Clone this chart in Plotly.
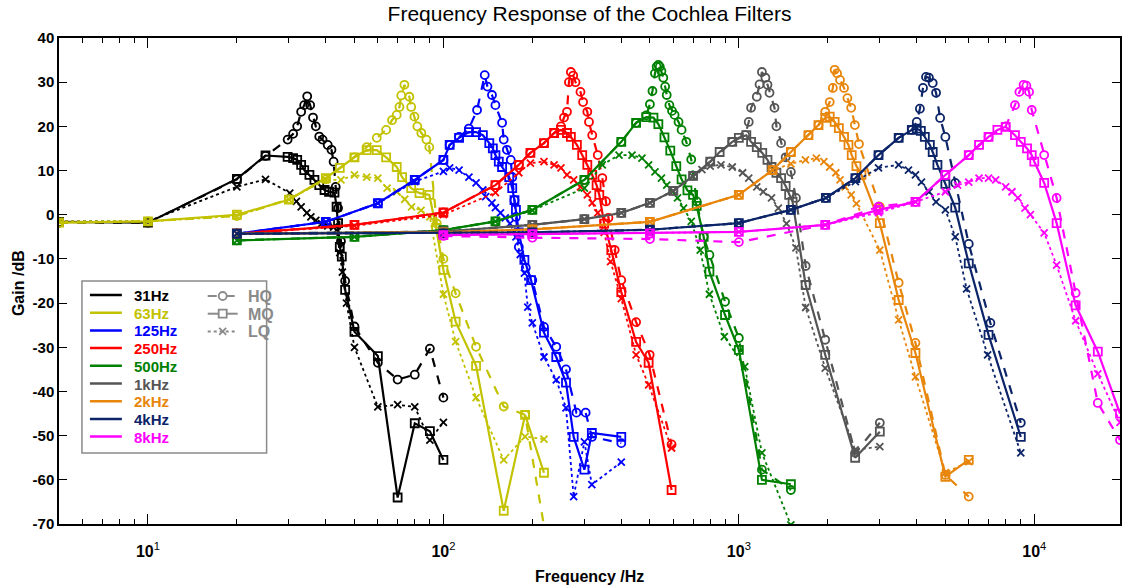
import plotly.graph_objects as go

# ---------------- data (Hz, dB) ----------------
F31_HQ = [5,10,20,25,29.7,31,32,33,33.8,34.6,35.4,36.2,37,38,39,40.6,41.8,42.5,43.2,44,45,46.5,50,60,70,80,90,100]
G31_HQ = [-1.8,-1.8,8,13.3,17,18.3,20,23.3,24.8,26.8,24.8,22,20,17.7,17,15.8,14.7,12,6.3,1.5,-6,-15,-25.3,-33.5,-37.3,-36.2,-30.3,-41.4]
F31_MQ = [5,10,20,25,29.7,31,32,33,33.8,35.2,36.6,38,39.6,41,42.8,43.5,44,44.6,45.3,46.5,50,60,70,80,90,100]
G31_MQ = [-1.6,-1.8,8.1,13.4,13.1,12.8,12.4,11.3,10.1,9.0,7.9,6.7,5.6,5.2,5.0,1.8,-1.9,-7.3,-9.5,-17,-26.5,-32,-64,-47.2,-49,-55.5]
F31_LQ = [5,10,20,25,30.2,31.8,33,34.5,35.6,37,38.7,40.6,42.5,43.5,44.6,45.5,47,50,60,70,80,90,100]
G31_LQ = [-1.5,-1.5,6.3,8,4.9,3.0,1.8,0.4,-0.5,-1.3,-2,-2.5,-2.8,-3.5,-8.6,-13,-20,-30,-43.5,-43,-43.5,-51,-47]

F63_HQ = [5,10,20,30,40,50,55,59.5,64,67,69.5,71,72,73.8,76.7,77.8,79.8,81.6,84.2,87.6,89.6,95,100,110,129,160,189,225]
G63_HQ = [-1.8,-1.5,-0.3,3.5,8,13,15.3,17.4,19.2,21.4,22.6,24.4,27,29.4,26.7,24.4,22.2,20,18.5,17,15.3,-2,-10,-17.8,-29.9,-43.4,-45.3,-75]
F63_MQ = [5,10,20,30,40,44.6,50,55,59.5,64,69.5,72.5,77.8,83,89.6,94.5,100,110,129,160,189,219]
G63_MQ = [-1.8,-1.5,0,3.4,8.3,10.6,13,14.6,14.6,13,10.8,8.5,6,4.9,4.5,-3,-12.5,-24.2,-34.2,-67,-45.3,-58.4]
F63_LQ = [5,10,20,30,40,45,50,55,60,64.5,69.5,74,78,84,90,100,110,129,160,189,219]
G63_LQ = [-1.5,-1.5,-0.3,3.5,7.9,7.9,9,8.5,8.3,6,5.2,3.5,1.8,1,-0.5,-18,-28.7,-41.4,-55.5,-50.2,-50.8]

F125_HQ = [20,40,60,80,100,105,113,122,130,138,141,146,150,158,160,164,169,171,174,176,180,190,200,219,241,260,282,303,318,400]
G125_HQ = [-4.3,-1.6,2.6,7.9,12.4,15.8,17.6,19.5,23.7,31.6,29,27.1,24.8,20.8,17,14.7,12.4,8.5,3.3,-0.5,-7.3,-12,-14.8,-25.4,-29.9,-35,-44.8,-44.8,-50.3,-51.7]
F125_MQ = [20,40,60,80,100,105,113,122,129,136,143,147,150,154,158,167,171,174,176,180,188,198,219,241,260,276,300,318,400]
G125_MQ = [-4.3,-1.6,2.6,7.9,12.4,15.8,17.4,18.7,18.7,18,16.2,15,13.5,12,10.8,8.5,6,3.3,1.1,-4,-10.2,-14.8,-26.7,-32.2,-38,-50.3,-57.7,-49.4,-50.3]
F125_LQ = [20,40,60,80,100,105,113,122,129,136,139,146,150,156,162,168,176,182,188,193,200,219,241,260,276,300,318,400]
G125_LQ = [-4.3,-1.6,2.6,7.5,9.8,10.6,10.1,8.5,7.2,5.6,4.1,2.7,1.6,0.4,-0.7,-2,-5,-9,-13.2,-20.9,-24.5,-32.2,-37.4,-43.7,-63.8,-51.4,-61.1,-56]

F250_HQ = [20,50,100,150,180,197,219,237,250,256,262,266,270,275,280,291,297,307,311,319,333,345,355,362,380,400,449,499,592]
G250_HQ = [-4.3,-2.3,0.5,6.7,11.3,14,16.2,18.5,20,22,23.3,30,32.3,31.5,30,27.8,25.5,23.3,21,18,13.5,8.3,3,-0.7,-8,-14.8,-24.3,-31.7,-52]
F250_MQ = [20,50,100,150,180,197,219,237,250,262,270,283,295,307,319,330,337,350,370,400,449,495,592]
G250_MQ = [-4.3,-2.3,0.5,6.7,11.3,14,16.2,18.5,19.2,18.5,17.6,15.8,13.5,11.3,9,6.7,4.5,-2,-8,-17.5,-28.8,-33.5,-62.3]
F250_LQ = [20,50,100,150,180,197,219,237,250,262,276,291,307,319,333,350,368,400,449,495,592]
G250_LQ = [-4.3,-2.5,0,5,9.5,11.7,12,11.3,10.6,9,7.9,6.3,4.5,2.7,0.4,-4,-10.6,-19,-31.7,-38.5,-52.8]

F500_HQ = [20,50,100,150,200,300,400,449,486,500,510,520,527,534,540,547,555,563,570,582,594,606,625,640,664,690,720,760,795,898,1000,1197,1500]
G500_HQ = [-5.8,-5,-3.5,-1.5,1.1,7.9,16.5,20.8,22.5,25,28,32,33.5,33.9,33.5,32.5,31,29,27.1,24.8,23.5,22.6,21,19.2,16.5,12.5,3,-5,-9.1,-19.7,-27.9,-57.7,-62.3]
F500_MQ = [20,50,100,150,200,300,400,449,486,514,534,560,586,614,640,670,700,720,760,795,898,1000,1197,1500]
G500_MQ = [-5.8,-5,-3.5,-1.5,1.1,7.9,16.5,20.8,22.1,22,20.5,17.5,14.5,11,8,5.5,4.5,2,-5,-12.9,-22.7,-30.6,-60,-61]
F500_LQ = [20,50,100,150,200,300,345,393,435,470,495,520,547,570,597,620,650,690,740,795,893,1047,1197,1500]
G500_LQ = [-5.8,-5,-3.5,-1.5,1,6,11.3,13.5,13.5,12.8,11.3,9.7,8.3,6.7,5.2,3.8,1.5,-1.5,-8,-18,-27.6,-34.4,-53.9,-70.2]

F1K_HQ = [20,100,200,300,400,500,600,700,800,950,1050,1080,1100,1150,1175,1197,1230,1250,1270,1320,1340,1390,1440,1500,1560,1683,1960,2475,3000]
G1K_HQ = [-4.3,-3.8,-2.3,-1,0.4,2.7,5.4,8.8,12,16.5,18,21,24.2,26.7,29.5,32.3,31,29.4,27.6,24.2,20,16.2,13,9.7,3.8,-11.6,-28.3,-53.9,-47.1]
F1K_MQ = [20,100,200,300,400,500,600,700,800,861,950,1000,1060,1100,1150,1200,1250,1290,1340,1390,1440,1480,1520,1683,1960,2475,3000]
G1K_MQ = [-4.3,-3.8,-2.3,-1,0.4,2.7,5.4,8.8,12,14.2,16.5,17.4,18,16.5,15.3,14,12.4,10.8,9.5,8.3,6.5,4.5,2.9,-15.9,-31.7,-55,-49.1]
F1K_LQ = [20,100,200,300,400,500,600,700,750,800,870,950,1030,1080,1150,1210,1290,1360,1450,1560,1683,1960,2475,3000]
G1K_LQ = [-4.3,-3.8,-2.3,-1,0.4,2.7,5.4,8.6,10.2,11,11.3,10.8,9.5,8.3,6.3,5.2,3.8,1.5,-2,-7.5,-21,-34.7,-53.2,-52.5]

F2K_HQ = [20,100,200,500,1000,1300,1500,1720,1860,1960,2030,2080,2110,2150,2200,2270,2330,2400,2470,2550,3000,3475,3960,5000,6000]
G2K_HQ = [-4.3,-4,-3.3,-1.6,4.5,10.1,14.2,18,20.3,23.3,25.5,28.7,32.8,32,30.5,28.7,26.4,24.2,20.3,16,1.8,-15.4,-29,-58.9,-63.8]
F2K_MQ = [20,100,200,500,1000,1300,1500,1720,1860,1960,2030,2110,2180,2270,2350,2410,2500,2600,3000,3475,3960,5000,6000]
G2K_MQ = [-4.3,-4,-3.3,-1.6,4.5,10.1,14.2,18,20.3,21.9,22.2,21,19.6,17.6,15.8,13.5,11,9,-1.9,-19.3,-31.3,-59.3,-55.5]
F2K_LQ = [20,100,200,500,1000,1300,1500,1680,1830,1940,2030,2130,2200,2290,2400,2500,3000,3475,3960,5000,6000]
G2K_LQ = [-4.3,-4,-3.3,-1.6,4.5,10.1,11.5,12.4,12.8,12,10.8,9.5,7.9,6.3,4.5,2.5,-8,-23.8,-36.7,-58.4,-55.9]

F4K_HQ = [20,100,200,500,1000,1500,1970,2480,2970,3475,3850,4000,4100,4200,4300,4400,4530,4650,4800,5000,5400,6000,7100,9000]
G4K_HQ = [-4.3,-4.2,-4,-3.4,-1.9,1.1,3.8,8.3,13.5,17.4,19.2,21,24,28.7,31.2,31,29.8,27.6,21.9,17.6,7.2,-6.6,-24.5,-47.1]
F4K_MQ = [20,100,200,500,1000,1500,1970,2480,2970,3475,3850,4000,4130,4260,4430,4530,4700,5000,5400,6000,7000,9000]
G4K_MQ = [-4.3,-4.2,-4,-3.4,-1.9,1.1,3.8,8.3,13.5,17.4,19.2,19.5,19,17.6,15.8,14.2,11.3,7,1.6,-11,-27.2,-50.3]
F4K_LQ = [20,100,200,500,1000,1500,1970,2480,2970,3475,3750,3960,4150,4400,4650,5000,5400,5900,6950,9000]
G4K_LQ = [-4.3,-4.2,-4,-3.4,-1.9,1.1,3.8,7.5,10.6,11.3,10.1,9,7.4,5.2,2.9,1.1,-5,-16.8,-31.7,-53.9]

F8K_HQ = [100,200,500,1000,1960,2970,3960,5000,6000,7000,8000,8600,8900,9200,9400,9600,9800,10800,11900,13800,16400,19500]
G8K_HQ = [-4.8,-5.2,-5.5,-6.2,-2.3,1.8,2.9,9,13.5,17.6,20,24.8,27.8,29.4,29.2,27.8,23.7,13.5,3.8,-17.7,-42.6,-51]
F8K_MQ = [100,200,500,1000,1960,2970,3960,5000,6000,6500,7000,7500,8000,8600,9000,9450,9800,10000,10800,11900,13800,16400,19500]
G8K_MQ = [-4.6,-4.4,-4.2,-3.9,-2.3,1.1,2.9,9,13.5,15.8,17.6,19.2,19.9,18,16.5,15,13.5,12,7.2,-1.9,-20.5,-31,-45]
F8K_LQ = [100,200,500,1000,1960,2970,3960,5000,5500,6000,6500,7000,7400,8000,8400,8800,9300,9700,10800,11900,13800,16400,19500]
G8K_LQ = [-4.6,-4.4,-4.2,-3.9,-2.3,0.5,2.9,5.2,6.7,7.4,8.3,8.3,7.9,6.3,5.2,3.8,1.5,0,-4.1,-11.4,-24,-36,-47]

FILTER_NAMES = ["31Hz", "63Hz", "125Hz", "250Hz", "500Hz", "1kHz", "2kHz", "4kHz", "8kHz"]
Q_NAMES = ["HQ", "MQ", "LQ"]
X_TICKS = [10, 100, 1000, 10000]
X_TICK_EXP = ["1", "2", "3", "4"]
Y_TICKS = [40, 30, 20, 10, 0, -10, -20, -30, -40, -50, -60, -70]

# ---------------- styles ----------------
COLORS = ["#000000", "#C2C200", "#0000FF", "#FF0000", "#008000",
          "#555555", "#E8860C", "#0C2468", "#FF00FF"]
LEG_GRAY = "#8a8a8a"
FONT = "Liberation Sans, Arial, Helvetica, sans-serif"
Q_STYLE = {
    "HQ": dict(dash="dash", symbol="circle-open", size=8, width=2.2),
    "MQ": dict(dash="solid", symbol="square-open", size=8, width=2.2),
    "LQ": dict(dash="dot", symbol="x-thin-open", size=7, width=1.8),
}

data = [
    (F31_HQ, G31_HQ, F31_MQ, G31_MQ, F31_LQ, G31_LQ),
    (F63_HQ, G63_HQ, F63_MQ, G63_MQ, F63_LQ, G63_LQ),
    (F125_HQ, G125_HQ, F125_MQ, G125_MQ, F125_LQ, G125_LQ),
    (F250_HQ, G250_HQ, F250_MQ, G250_MQ, F250_LQ, G250_LQ),
    (F500_HQ, G500_HQ, F500_MQ, G500_MQ, F500_LQ, G500_LQ),
    (F1K_HQ, G1K_HQ, F1K_MQ, G1K_MQ, F1K_LQ, G1K_LQ),
    (F2K_HQ, G2K_HQ, F2K_MQ, G2K_MQ, F2K_LQ, G2K_LQ),
    (F4K_HQ, G4K_HQ, F4K_MQ, G4K_MQ, F4K_LQ, G4K_LQ),
    (F8K_HQ, G8K_HQ, F8K_MQ, G8K_MQ, F8K_LQ, G8K_LQ),
]

fig = go.Figure()

for (name, color, arrs) in zip(FILTER_NAMES, COLORS, data):
    pairs = {"HQ": (arrs[0], arrs[1]), "MQ": (arrs[2], arrs[3]), "LQ": (arrs[4], arrs[5])}
    for q in ["LQ", "MQ", "HQ"]:
        st = Q_STYLE[q]
        fx, gy = pairs[q]
        fig.add_trace(go.Scatter(
            x=fx, y=gy, mode="lines+markers", showlegend=False,
            name=f"{name} {q}",
            line=dict(color=color, width=st["width"], dash=st["dash"]),
            marker=dict(symbol=st["symbol"], size=st["size"], color=color,
                        line=dict(color=color, width=1.8)),
            hoverinfo="skip"))

W, H = 1122, 586
L, R, T, B = 59, 0, 38, 62
PW, PH = W - L - R, H - T - B

def px(x):
    return (x - L) / PW

def py(y):
    return (H - B - y) / PH

minor_vals = []
for dec in [1, 10, 100, 1000, 10000]:
    for m in range(2, 10):
        v = m * dec
        if 5 <= v <= 19500:
            minor_vals.append(v)

# ---------------- manual legend (box, lines, glyphs, labels) ----------------
shapes = []
annotations = []
shapes.append(dict(type="rect", xref="paper", yref="paper",
                   x0=px(82), x1=px(267), y0=py(453), y1=py(281),
                   line=dict(color=LEG_GRAY, width=1.5),
                   fillcolor="white", layer="above"))
ROW0, ROWH = 295, 17.7
for i, (name, color) in enumerate(zip(FILTER_NAMES, COLORS)):
    yy = ROW0 + i * ROWH
    shapes.append(dict(type="line", xref="paper", yref="paper",
                       x0=px(90), x1=px(122), y0=py(yy), y1=py(yy),
                       line=dict(color=color, width=2.5), layer="above"))
    annotations.append(dict(text=f"<b>{name}</b>", xref="paper", yref="paper",
                            x=px(132), y=py(yy + 0.5), xanchor="left", yanchor="middle",
                            showarrow=False, font=dict(size=15, color=color)))

dash_map = {"HQ": "dash", "MQ": "solid", "LQ": "dot"}
for i, q in enumerate(Q_NAMES):
    yy = ROW0 + 1 + i * ROWH
    shapes.append(dict(type="line", xref="paper", yref="paper",
                       x0=px(208), x1=px(238), y0=py(yy), y1=py(yy),
                       line=dict(color=LEG_GRAY, width=2, dash=dash_map[q]), layer="above"))
    cx, cy = px(223), py(yy)
    if q == "HQ":
        shapes.append(dict(type="circle", xref="paper", yref="paper",
                           xsizemode="pixel", ysizemode="pixel", xanchor=cx, yanchor=cy,
                           x0=-4, x1=4, y0=-4, y1=4, fillcolor="white",
                           line=dict(color=LEG_GRAY, width=1.8), layer="above"))
    elif q == "MQ":
        shapes.append(dict(type="rect", xref="paper", yref="paper",
                           xsizemode="pixel", ysizemode="pixel", xanchor=cx, yanchor=cy,
                           x0=-4, x1=4, y0=-4, y1=4, fillcolor="white",
                           line=dict(color=LEG_GRAY, width=1.8), layer="above"))
    else:
        for s in (1, -1):
            shapes.append(dict(type="line", xref="paper", yref="paper",
                               xsizemode="pixel", ysizemode="pixel", xanchor=cx, yanchor=cy,
                               x0=-3.5, x1=3.5, y0=-3.5 * s, y1=3.5 * s,
                               line=dict(color=LEG_GRAY, width=1.8), layer="above"))
    annotations.append(dict(text=f"<b>{q}</b>", xref="paper", yref="paper",
                            x=px(246), y=py(yy + 0.5), xanchor="left", yanchor="middle",
                            showarrow=False, font=dict(size=16, color=LEG_GRAY)))

annotations += [
    dict(text="<b>Frequency /Hz</b>", xref="paper", yref="paper",
         x=0.5, y=py(576), showarrow=False, yanchor="middle",
         font=dict(size=16, color="black")),
    dict(text="<b>Gain /dB</b>", xref="paper", yref="paper",
         x=px(18), y=py(283), showarrow=False, textangle=-90,
         xanchor="center", yanchor="middle",
         font=dict(size=16, color="black")),
]

fig.update_layout(
    width=W, height=H,
    margin=dict(l=L, r=R, t=T, b=B),
    paper_bgcolor="white", plot_bgcolor="white",
    showlegend=False,
    font=dict(family=FONT, color="black"),
    title=dict(text="Frequency Response of the Cochlea Filters",
               x=0.5, xref="paper", y=1 - 14 / H, yanchor="middle",
               font=dict(size=21, color="black")),
    xaxis=dict(
        type="log", range=[0.69897, 4.29003],
        tickvals=X_TICKS,
        ticktext=[f"<b>10</b><sup>{e}</sup>" for e in X_TICK_EXP],
        ticks="inside", ticklen=10, tickwidth=1.2, tickcolor="black",
        showline=True, linecolor="black", linewidth=1.5, mirror="ticks",
        showgrid=False, zeroline=False,
        tickfont=dict(size=16, color="black"),
        ticklabelstandoff=12,
        minor=dict(tickvals=minor_vals, ticks="inside", ticklen=5,
                   tickcolor="black", tickwidth=1, showgrid=False),
    ),
    yaxis=dict(
        range=[-70, 40],
        tickvals=Y_TICKS, ticktext=[f"<b>{v}</b>" for v in Y_TICKS],
        ticks="inside", ticklen=8, tickwidth=1.2, tickcolor="black",
        showline=True, linecolor="black", linewidth=1.5, mirror="ticks",
        showgrid=False, zeroline=False,
        tickfont=dict(size=15, color="black"),
    ),
    shapes=shapes,
    annotations=annotations,
)

fig.write_html("out.html")
